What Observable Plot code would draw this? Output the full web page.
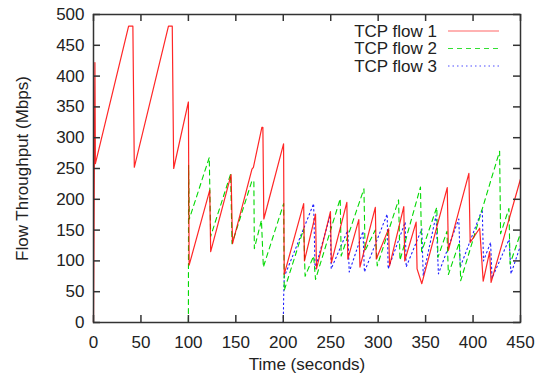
<!DOCTYPE html>
<html><head><meta charset="utf-8">
<script src="https://cdn.jsdelivr.net/npm/d3@7"></script>
<script src="https://cdn.jsdelivr.net/npm/@observablehq/plot@0.6"></script>
<style>body{margin:0;background:#fff}</style>
</head><body><div id="chart"></div>
<script>
const xTicks = [0, 50, 100, 150, 200, 250, 300, 350, 400, 450];
const yTicks = [0, 50, 100, 150, 200, 250, 300, 350, 400, 450, 500];
const seriesNames = ["TCP flow 1", "TCP flow 2", "TCP flow 3"];
const xTitle = "Time (seconds)";
const yTitle = "Flow Throughput (Mbps)";

const flow1T = [0, 1.5, 2, 37, 41.5, 43, 79, 83, 84.5, 100, 100.8, 122.5, 123.5, 145, 146.5, 167, 168.5, 177.5, 178.5, 179.5, 200.3, 201, 221.5, 222.3, 234, 235, 249.7, 250.7, 267, 268, 279.6, 280.8, 297, 298, 311, 312, 327, 328, 340, 341, 346, 372.8, 374, 395.6, 397, 407, 410.7, 417.5, 419, 450];
const flow1V = [0, 422, 258, 481, 481, 252, 481, 481, 250, 358, 93, 215, 115, 240, 128, 249, 252, 317, 317, 168, 290, 78, 193, 100, 176, 87, 180, 97, 195, 103, 167, 90, 187, 103, 152, 92, 188, 100, 163, 87, 63, 219, 117, 242, 130, 153, 67, 115, 65, 233];

const flow2T = [100, 100.2, 101, 122, 123.5, 144.5, 146, 167, 169, 169.5, 177, 179, 200.4, 201, 221.5, 223, 232, 234, 260, 261, 285, 286.2, 297, 299, 321.5, 323, 344.6, 345.8, 361.8, 363, 372.5, 374, 385.5, 387, 428, 429, 437.8, 439, 450];
const flow2V = [0, 255, 168, 268, 140, 241, 128, 230, 230, 120, 166, 90, 193, 52, 152, 75, 108, 70, 201, 108, 217, 117, 150, 92, 199, 101, 220, 115, 187, 106, 148, 78, 130, 68, 278, 144, 185, 95, 145];

const flow3T = [200, 200.4, 201, 232, 233.5, 249.5, 250.5, 268, 269.5, 284, 285.5, 309.5, 310.5, 328.5, 329.5, 346, 347.5, 361, 363.5, 385, 386.5, 409.7, 411, 418.5, 420, 438, 440, 450];
const flow3V = [0, 40, 74, 193, 87, 174, 87, 150, 82, 148, 82, 176, 87, 163, 90, 152, 76, 174, 79, 168, 90, 184, 100, 130, 72, 135, 79, 125];

const colors = ["#ff0000", "#00d800", "#2020ff"];
const dashes = [null, "5,4", "1.5,3"];

const rows = (T, V, name) => T.map((t, i) => ({t, v: V[i], name}));
const series = [rows(flow1T, flow1V, seriesNames[0]), rows(flow2T, flow2V, seriesNames[1]), rows(flow3T, flow3V, seriesNames[2])];

const W = 548, H = 385, mL = 93, mR = 28, mT = 14, mB = 63;
const innerW = W - mL - mR, innerH = H - mT - mB, tk = 7;
const fontFamily = "'Liberation Sans', Arial, sans-serif";

const chart = Plot.plot({
  width: W, height: H, marginLeft: mL, marginRight: mR, marginTop: mT, marginBottom: mB,
  style: {fontFamily, fontSize: "17px", color: "#222", background: "#fff"},
  x: {domain: [0, 450]},
  y: {domain: [0, 500]},
  marks: [
    Plot.line(series[2], {x: "t", y: "v", stroke: colors[2], strokeWidth: 1.1, strokeDasharray: dashes[2]}),
    Plot.line(series[1], {x: "t", y: "v", stroke: colors[1], strokeWidth: 1.1, strokeDasharray: dashes[1]}),
    Plot.line(series[0], {x: "t", y: "v", stroke: colors[0], strokeWidth: 1.2, strokeOpacity: 0.85}),
    Plot.tickX(xTicks, {x: d => d, insetTop: innerH - tk, stroke: "#333", strokeWidth: 1.5}),
    Plot.tickX(xTicks, {x: d => d, insetBottom: innerH - tk, stroke: "#333", strokeWidth: 1.5}),
    Plot.tickY(yTicks, {y: d => d, insetRight: innerW - tk, stroke: "#333", strokeWidth: 1.5}),
    Plot.tickY(yTicks, {y: d => d, insetLeft: innerW - tk, stroke: "#333", strokeWidth: 1.5}),
    Plot.axisX({ticks: xTicks, tickSize: 0, tickPadding: 13, label: null, tickFormat: d => String(d)}),
    Plot.axisY({ticks: yTicks, tickSize: 0, tickPadding: 9, label: null, tickFormat: d => String(d)}),
    Plot.frame({stroke: "#333", strokeWidth: 1.5}),
    Plot.text([xTitle], {text: d => d, frameAnchor: "bottom", textAnchor: "middle", dy: 47, fontSize: 17, fill: "#222"}),
    Plot.text([yTitle], {text: d => d, frameAnchor: "left", textAnchor: "middle", lineAnchor: "middle", rotate: -90, dx: -71, fontSize: 17, fill: "#222"})
  ]
});
document.getElementById("chart").appendChild(chart);

// legend inside the top-right of the frame
const svg = d3.select(chart);
const lg = svg.append("g").attr("font-family", fontFamily).attr("font-size", 17).attr("fill", "#222");
seriesNames.forEach((name, i) => {
  const y = 31 + i * 17.5;
  lg.append("text").attr("x", 437).attr("y", y).attr("dy", "0.35em").attr("text-anchor", "end").text(name);
  const ln = lg.append("line").attr("x1", 448).attr("x2", 499).attr("y1", y).attr("y2", y)
    .attr("stroke", colors[i]).attr("stroke-width", 1.1).attr("stroke-opacity", i === 0 ? 0.6 : 0.8);
  if (dashes[i]) ln.attr("stroke-dasharray", dashes[i]);
});
</script>
</body></html>
